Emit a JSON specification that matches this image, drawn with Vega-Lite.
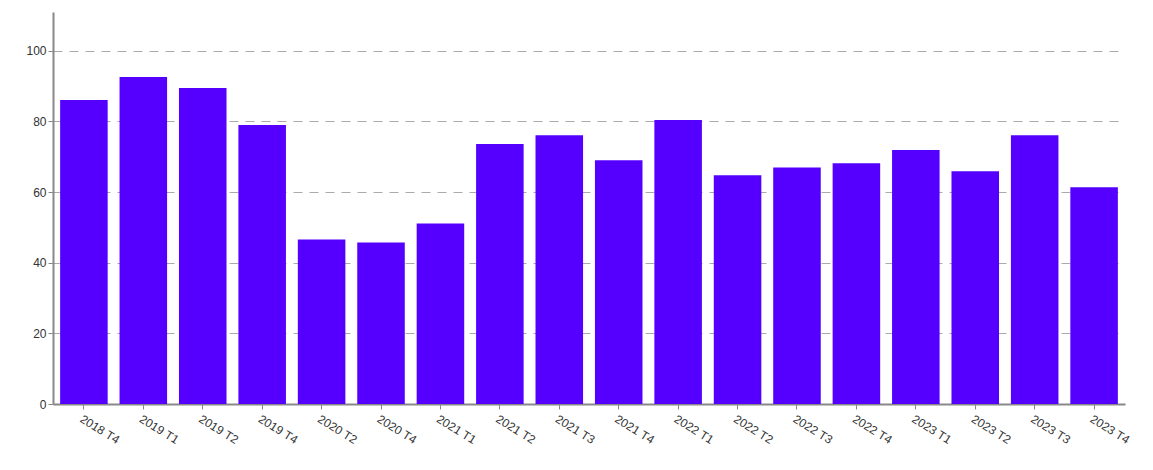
{
  "$schema": "https://vega.github.io/schema/vega-lite/v6.json",
  "autosize": "none",
  "width": 1072,
  "height": 392,
  "padding": {"left": 53, "top": 12, "right": 28, "bottom": 66},
  "background": "white",
  "config": {"view": {"stroke": null}, "font": "Liberation Sans"},
  "data": {"values": [
    {"period": "2018 T4", "value": 86.1},
    {"period": "2019 T1", "value": 92.6},
    {"period": "2019 T2", "value": 89.5},
    {"period": "2019 T4", "value": 79.0},
    {"period": "2020 T2", "value": 46.6},
    {"period": "2020 T4", "value": 45.7},
    {"period": "2021 T1", "value": 51.1},
    {"period": "2021 T2", "value": 73.6},
    {"period": "2021 T3", "value": 76.1},
    {"period": "2021 T4", "value": 69.0},
    {"period": "2022 T1", "value": 80.4},
    {"period": "2022 T2", "value": 64.8},
    {"period": "2022 T3", "value": 67.0},
    {"period": "2022 T4", "value": 68.2},
    {"period": "2023 T1", "value": 71.9},
    {"period": "2023 T2", "value": 65.9},
    {"period": "2023 T3", "value": 76.1},
    {"period": "2023 T4", "value": 61.4}
  ]},
  "mark": {"type": "bar", "color": "#5500ff"},
  "encoding": {
    "x": {
      "field": "period", "type": "nominal", "sort": null,
      "scale": {"paddingInner": 0.2, "paddingOuter": 0.12},
      "axis": {
        "title": null, "labelAngle": 32, "labelFontSize": 12, "labelColor": "#333",
        "domainColor": "#888", "domainWidth": 2, "tickColor": "#888", "tickSize": 5,
        "labelPadding": 4, "grid": false
      }
    },
    "y": {
      "field": "value", "type": "quantitative",
      "scale": {"domain": [0, 111], "nice": false},
      "axis": {
        "title": null, "values": [0, 20, 40, 60, 80, 100], "labelFontSize": 12, "labelColor": "#333",
        "domainColor": "#888", "domainWidth": 2, "tickColor": "#888", "tickSize": 5,
        "grid": true, "gridColor": "#aaa", "gridDash": [9, 7], "gridWidth": 1
      }
    }
  }
}
